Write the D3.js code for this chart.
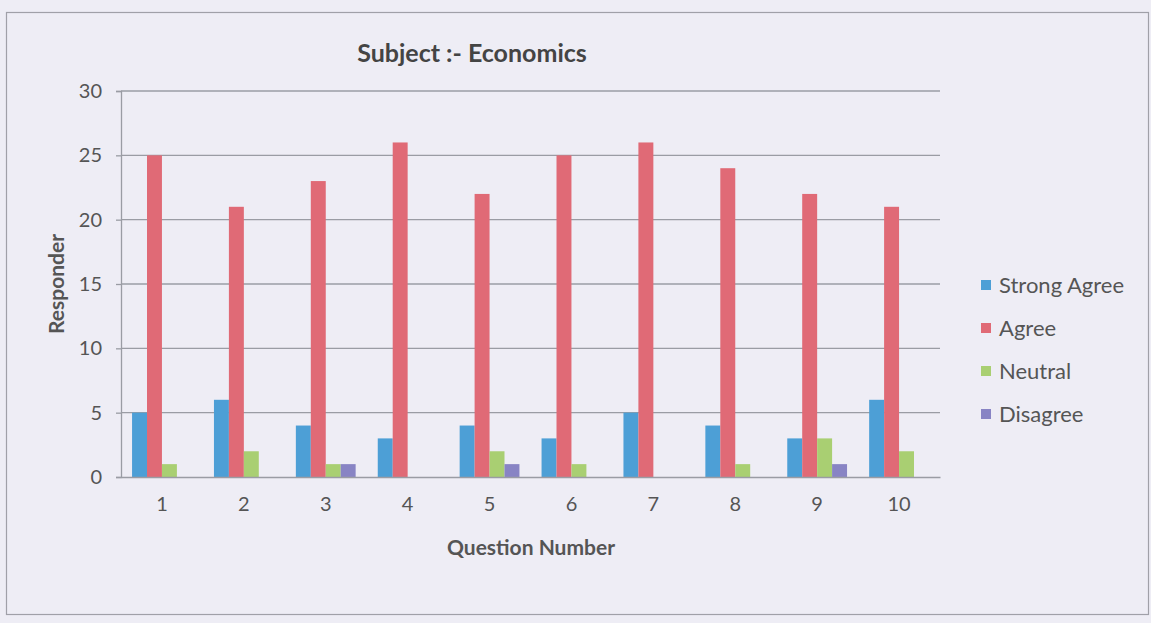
<!DOCTYPE html>
<html><head><meta charset="utf-8">
<script src="https://cdn.jsdelivr.net/npm/d3@7"></script>
<style>body{margin:0;background:#eeedf5;}svg{display:block;}</style>
</head><body>
<svg id="c" width="1151" height="623"></svg>
<script>
const questions = ["1","2","3","4","5","6","7","8","9","10"];
const seriesNames = ["Strong Agree","Agree","Neutral","Disagree"];
const strongAgree = [5,6,4,3,4,3,5,4,3,6];
const agree = [25,21,23,26,22,25,26,24,22,21];
const neutral = [1,2,1,0,2,1,0,1,3,2];
const disagree = [0,0,1,0,1,0,0,0,1,0];
const yTicks = [0,5,10,15,20,25,30];
const colors = ["#4d9fd6","#e06a76","#a9cf72","#8884c4"];
const values = [strongAgree, agree, neutral, disagree];

const svg = d3.select("#c");
const font = "Lato, 'Open Sans', sans-serif";
svg.append("rect").attr("x",0).attr("y",0).attr("width",1151).attr("height",623).attr("fill","#eeedf5");
svg.append("rect").attr("x",6.5).attr("y",12.5).attr("width",1142).attr("height",602)
  .attr("fill","none").attr("stroke","#a0a0a8").attr("stroke-width",1.2);

const L=121, R=940, T=91, B=477;
const x = d3.scaleBand().domain(questions).range([L,R]).paddingInner(0.27).paddingOuter(0.135);
const xs = d3.scaleBand().domain(seriesNames).range([0,x.bandwidth()]);
const y = d3.scaleLinear().domain([0,30]).range([B,T]);

// grid
svg.append("g").selectAll("line").data(yTicks.filter(d=>d>0)).join("line")
  .attr("x1",L).attr("x2",R).attr("y1",d=>y(d)).attr("y2",d=>y(d))
  .attr("stroke","#9a9ca4").attr("stroke-width",1.3);

// bars
seriesNames.forEach((s,i)=>{
  svg.append("g").selectAll("rect").data(questions).join("rect")
    .attr("x",q=>x(q)+xs(s)).attr("width",xs.bandwidth())
    .attr("y",(q,j)=>y(values[i][j])).attr("height",(q,j)=>y(0)-y(values[i][j]))
    .attr("fill",colors[i]);
});

// y axis
const ya = svg.append("g").attr("transform",`translate(${L},0)`)
  .call(d3.axisLeft(y).tickValues(yTicks).tickSize(5).tickPadding(14));
ya.select(".domain").attr("stroke","#9a9ca4").attr("stroke-width",1.3);
ya.selectAll(".tick line").attr("stroke","#9a9ca4").attr("stroke-width",1.3);
ya.selectAll("text").attr("font-family",font).attr("font-size",20).attr("fill","#555");

// x axis
const xa = svg.append("g").attr("transform",`translate(0,${B})`)
  .call(d3.axisBottom(x).tickSize(0).tickPadding(20));
xa.select(".domain").attr("stroke","#9a9ca4").attr("stroke-width",1.3);
xa.selectAll("text").attr("font-family",font).attr("font-size",20).attr("fill","#555");

// titles
svg.append("text").attr("x",472).attr("y",62).attr("text-anchor","middle")
  .attr("font-family",font).attr("font-weight","bold").attr("font-size",25).attr("fill","#444")
  .text("Subject :- Economics");
svg.append("text").attr("x",531).attr("y",555).attr("text-anchor","middle")
  .attr("font-family",font).attr("font-weight","bold").attr("font-size",21).attr("fill","#555")
  .text("Question Number");
svg.append("text").attr("transform",`translate(64,${(T+B)/2}) rotate(-90)`).attr("text-anchor","middle")
  .attr("font-family",font).attr("font-weight","bold").attr("font-size",21).attr("fill","#555")
  .text("Responder");

// legend
const lg = svg.append("g");
seriesNames.forEach((s,i)=>{
  const yy = 285 + i*43;
  lg.append("rect").attr("x",981).attr("y",yy-5).attr("width",10).attr("height",10).attr("fill",colors[i]);
  lg.append("text").attr("x",999).attr("y",yy).attr("dy","0.35em")
    .attr("font-family",font).attr("font-size",22).attr("fill","#555").text(s);
});
</script>
</body></html>
